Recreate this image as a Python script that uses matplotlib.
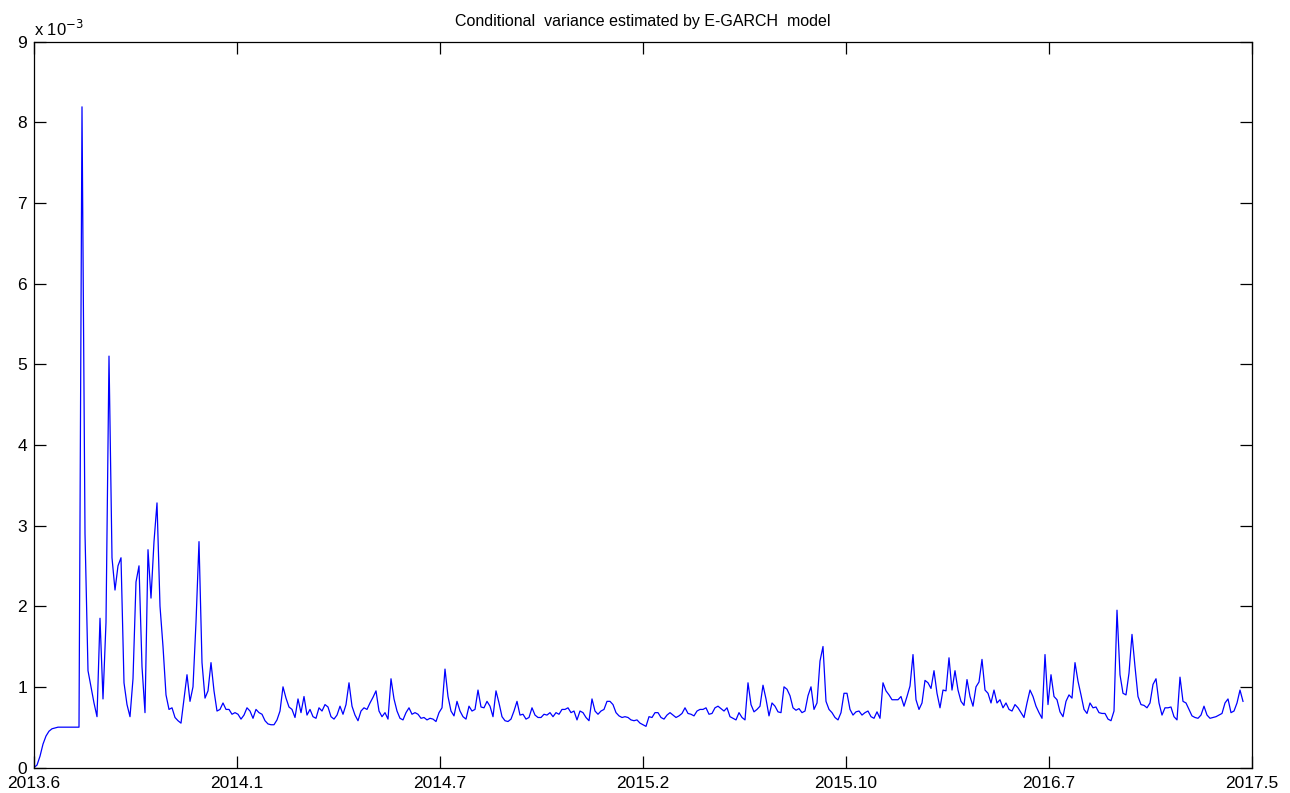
import numpy as np
import matplotlib
matplotlib.use("Agg")
import matplotlib.pyplot as plt
from matplotlib import font_manager

# ---- data (conditional variance, in units of 1e-3) ----
seg_start = [0.0, 0.03, 0.14, 0.29, 0.39, 0.45, 0.48, 0.49, 0.5, 0.5,
             0.5, 0.5, 0.5, 0.5, 0.5, 0.5]
seg_2013 = [8.19, 2.9, 1.2, 1.0, 0.8, 0.63, 1.85, 0.85, 1.8, 5.1,
            2.6, 2.2, 2.5, 2.6, 1.05, 0.78, 0.63, 1.1, 2.3, 2.5,
            1.25, 0.68, 2.7, 2.1, 2.8, 3.28, 2.0, 1.5, 0.9, 0.72,
            0.74, 0.62, 0.58, 0.55, 0.85, 1.15, 0.82, 1.0, 1.8, 2.8,
            1.3, 0.86, 0.95, 1.3, 0.95, 0.7, 0.72, 0.8, 0.72, 0.72]
seg_2014a = [0.66, 0.68, 0.66, 0.6, 0.65, 0.74, 0.7, 0.61, 0.72, 0.68,
             0.66, 0.58, 0.54, 0.53, 0.53, 0.59, 0.7, 1.0, 0.86, 0.75,
             0.72, 0.62, 0.85, 0.68, 0.88, 0.65, 0.72, 0.63, 0.61, 0.74,
             0.7, 0.78, 0.75, 0.63, 0.6, 0.65, 0.76, 0.66, 0.78, 1.05,
             0.76, 0.65, 0.58, 0.7, 0.74, 0.72, 0.8, 0.87, 0.95, 0.7,
             0.63, 0.68, 0.6, 1.1, 0.85, 0.7, 0.61, 0.59, 0.68, 0.74,
             0.66, 0.68, 0.66, 0.61, 0.62, 0.59, 0.61]
seg_2014b = [0.6, 0.57, 0.68, 0.74, 1.22, 0.88, 0.7, 0.64, 0.82, 0.7,
             0.63, 0.6, 0.76, 0.7, 0.72, 0.96, 0.75, 0.74, 0.82, 0.76,
             0.63, 0.95, 0.8, 0.63, 0.58, 0.57, 0.6, 0.7, 0.82, 0.65,
             0.66, 0.6, 0.62, 0.74, 0.65, 0.62, 0.62, 0.66, 0.65, 0.68,
             0.63, 0.68, 0.66, 0.72, 0.72, 0.74, 0.68, 0.7, 0.59, 0.7,
             0.68, 0.62, 0.58, 0.85, 0.7, 0.66, 0.7, 0.72, 0.82, 0.82,
             0.78, 0.68, 0.64, 0.62, 0.63, 0.62]
seg_2015a = [0.59, 0.58, 0.59, 0.55, 0.53, 0.51, 0.63, 0.62, 0.68, 0.68,
             0.62, 0.6, 0.65, 0.68, 0.65, 0.62, 0.64, 0.67, 0.74, 0.67,
             0.66, 0.64, 0.7, 0.72, 0.72, 0.74, 0.66, 0.67, 0.74, 0.76,
             0.73, 0.7, 0.74, 0.63, 0.61, 0.59, 0.68, 0.62, 0.59, 1.05,
             0.78, 0.69, 0.72, 0.76, 1.02, 0.85, 0.64, 0.8, 0.76, 0.69,
             0.68, 1.0, 0.97, 0.89, 0.74, 0.71, 0.73, 0.68, 0.7, 0.89,
             1.0, 0.72, 0.8, 1.32, 1.5, 0.82, 0.72]
seg_2015b = [0.68, 0.62, 0.59, 0.68, 0.92, 0.92, 0.72, 0.65, 0.69, 0.7,
             0.65, 0.68, 0.7, 0.63, 0.61, 0.69, 0.61, 1.05, 0.95, 0.9,
             0.84, 0.84, 0.84, 0.88, 0.76, 0.88, 1.01, 1.4, 0.84, 0.72,
             0.8, 1.08, 1.05, 0.98, 1.2, 0.92, 0.74, 0.96, 0.95, 1.36,
             0.96, 1.2, 0.96, 0.82, 0.77, 1.09, 0.88, 0.76, 1.0, 1.06,
             1.34, 0.96, 0.92, 0.8, 0.96, 0.8, 0.84, 0.74, 0.8, 0.72,
             0.7, 0.78, 0.74, 0.68, 0.62, 0.8, 0.96, 0.88, 0.76, 0.68]
seg_2016 = [0.61, 1.4, 0.78, 1.15, 0.88, 0.84, 0.69, 0.63, 0.82, 0.9,
            0.86, 1.3, 1.07, 0.9, 0.72, 0.67, 0.8, 0.74, 0.75, 0.68,
            0.67, 0.67, 0.6, 0.58, 0.7, 1.95, 1.15, 0.92, 0.9, 1.17,
            1.65, 1.25, 0.88, 0.78, 0.77, 0.74, 0.8, 1.03, 1.1, 0.8,
            0.65, 0.74, 0.74, 0.75, 0.63, 0.59, 1.12, 0.82, 0.8, 0.72,
            0.64, 0.62, 0.61, 0.65, 0.76, 0.65, 0.61, 0.62, 0.63, 0.65,
            0.67, 0.8, 0.85, 0.68, 0.7, 0.8, 0.96, 0.82]

x_tick_labels = ["2013.6", "2014.1", "2014.7", "2015.2", "2015.10", "2016.7", "2017.5"]
y_tick_values = [0, 1, 2, 3, 4, 5, 6, 7, 8, 9]
title_text = "Conditional  variance estimated by E-GARCH  model"

variance = np.concatenate([seg_start, seg_2013, seg_2014a, seg_2014b,
                           seg_2015a, seg_2015b, seg_2016]) * 1e-3
days = np.arange(len(variance))
x_end = 406  # axis extent in sample units

# ---- font ----
names = {f.name for f in font_manager.fontManager.ttflist}
fam = "Liberation Sans Narrow" if "Liberation Sans Narrow" in names else "Liberation Sans"
plt.rcParams["font.family"] = [fam, "DejaVu Sans"]

fig = plt.figure(figsize=(12.9, 7.93), dpi=100)
ax = fig.add_axes([34 / 1290, 25.5 / 793, 1218 / 1290, 726 / 793])
ax.plot(days, variance / 1e-3, color=(0, 0, 1), lw=0.9)

ax.set_xlim(0, x_end)
ax.set_ylim(0, 9)
ax.set_xticks(np.linspace(0, x_end, len(x_tick_labels)))
ax.set_xticklabels(x_tick_labels)
ax.set_yticks(y_tick_values)
ax.set_yticklabels([str(v) for v in y_tick_values])

ax.tick_params(direction="in", length=8.5, width=0.9, top=True, right=True,
               labelsize=12.5, colors="black")
ax.tick_params(axis="x", pad=6)
ax.tick_params(axis="y", pad=5)
for s in ax.spines.values():
    s.set_linewidth(0.9)
    s.set_color("black")

ax.text(0.0, 1.004, r"x 10$^{\mathrm{-3}}$", transform=ax.transAxes, fontsize=12,
        ha="left", va="bottom")
ax.set_title(title_text, fontsize=11.5, pad=11)

fig.savefig("out.png", dpi=100)
